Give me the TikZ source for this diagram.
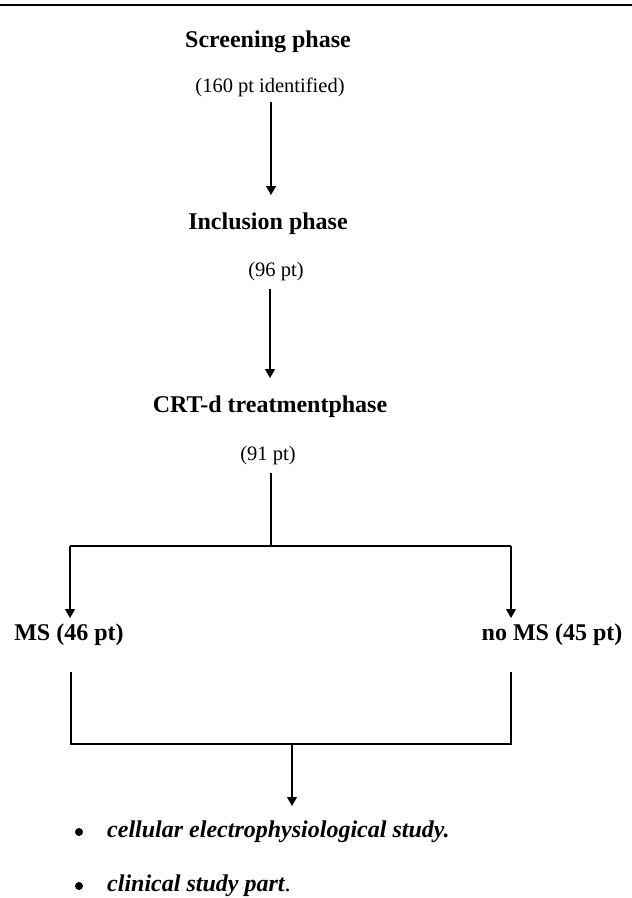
\documentclass[tikz,border=0pt]{standalone}
\usepackage{fontspec}
\setmainfont{Liberation Serif}
\usetikzlibrary{arrows.meta}

\tikzset{
  phase/.style={font=\fontsize{24}{28}\selectfont\bfseries, inner sep=0pt, anchor=base},
  count/.style={font=\fontsize{20.5}{24}\selectfont, inner sep=0pt, anchor=base},
  item/.style={font=\fontsize{24}{28}\selectfont\bfseries\itshape, inner sep=0pt, anchor=base west},
  dot/.style={circle, fill=black, inner sep=0pt, minimum size=8pt},
  conn/.style={line width=1.3pt},
  arr/.style={conn, -{Triangle[length=9pt,width=10pt]}}
}

\begin{document}
\begin{tikzpicture}[x=1pt,y=-1pt]
  \useasboundingbox (0,0) rectangle (632,898);

  % Rule on top
  \draw[line width=2.8pt] (0,5) -- (632,5);

  % Phases
  \node[phase] (screen) at (268,47) {Screening phase};
  \node[count] (ident) at (270,92) {(160 pt identified)};
  \node[phase] (incl) at (268,229) {Inclusion phase};
  \node[count] (n96) at (276,276) {(96 pt)};
  \node[phase] (crt) at (270,412) {CRT-d treatmentphase};
  \node[count] (n91) at (268,460) {(91 pt)};

  % Groups
  \node[phase] (ms) at (69,640) {MS (46 pt)};
  \node[phase] (noms) at (552,640) {no MS (45 pt)};

  % Studies
  \node[dot] (b1) at (79,832) {};
  \node[item] (cell) at (107,837) {cellular electrophysiological study.};
  \node[dot] (b2) at (79,886) {};
  \node[item] (clin) at (107,891) {clinical study part\textnormal{.}};

  % Junctions
  \coordinate (a1s) at (271,102);
  \coordinate (a1e) at (271,195);
  \coordinate (a2s) at (270,289);
  \coordinate (a2e) at (270,378);
  \coordinate (split) at (271,473);
  \coordinate (mid) at (271,546);
  \coordinate (left) at (70,546);
  \coordinate (right) at (511,546);
  \coordinate (msend) at (70,618);
  \coordinate (nomsend) at (511,618);
  \coordinate (ms2) at (71,672);
  \coordinate (noms2) at (511,672);
  \coordinate (join) at (292,744);
  \coordinate (endarr) at (292,806);

  % Connectors
  \draw[arr] (a1s) -- (a1e);
  \draw[arr] (a2s) -- (a2e);
  \draw[conn] (split) -- (mid);
  \draw[conn] (left) -- (right);
  \draw[arr] (left) -- (msend);
  \draw[arr] (right) -- (nomsend);
  \draw[conn] (ms2) |- (join) -| (noms2);
  \draw[arr] (join) -- (endarr);
\end{tikzpicture}
\end{document}
